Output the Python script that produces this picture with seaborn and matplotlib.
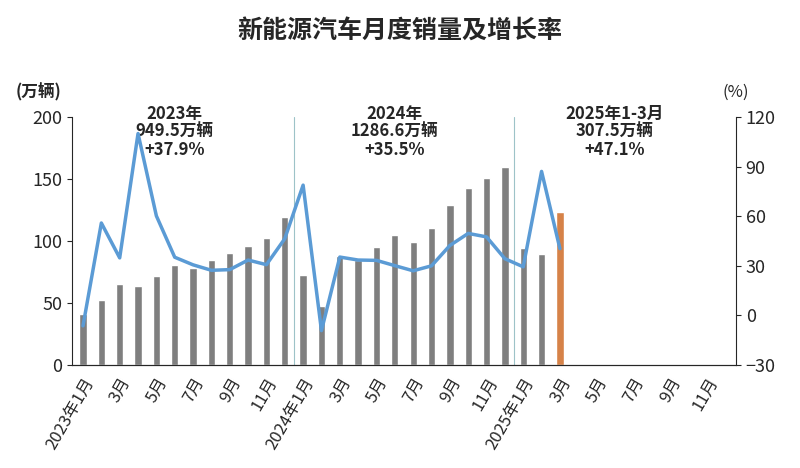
import numpy as np
import pandas as pd
import matplotlib
matplotlib.use('Agg')
import matplotlib.pyplot as plt
import seaborn as sns

sns.set_style('white')
plt.rcParams['font.family'] = ['Noto Sans CJK SC', 'DejaVu Sans']

months = ['%d年%d月' % (y, m) if m == 1 else '%d月' % m
          for y in (2023, 2024, 2025) for m in range(1, 13)]
sales = [40.8, 52.5, 65.3, 63.6, 71.7, 80.6, 78.0, 84.3, 90.4, 95.6, 102.8, 119.1,
         72.9, 47.7, 88.3, 85.0, 95.5, 104.9, 99.1, 110.3, 128.7, 143.0, 151.2, 159.6,
         94.4, 89.2, 123.7]
growth = [-6.3, 55.9, 34.8, 110.0, 60.2, 35.2, 30.6, 27.3, 27.7, 33.5, 30.7, 46.4,
          78.8, -9.2, 35.3, 33.5, 33.3, 30.1, 27.0, 30.0, 42.3, 49.6, 47.5, 34.3,
          29.4, 87.1, 40.4]
notes = [(5.0, '2023年\n949.5万辆\n+37.9%'),
         (17.0, '2024年\n1286.6万辆\n+35.5%'),
         (29.0, '2025年1-3月\n307.5万辆\n+47.1%')]

df = pd.DataFrame({'pos': np.arange(len(sales)), 'sales': sales,
                   'kind': ['past'] * (len(sales) - 1) + ['latest']})

fig, ax = plt.subplots(figsize=(8, 4.68), dpi=100)
sns.barplot(data=df, x='pos', y='sales', hue='kind', native_scale=True,
            palette={'past': '#7f7f7f', 'latest': '#ED7D31'}, dodge=False,
            legend=False, width=0.4, ax=ax)
ax.set_ylim(0, 200)
ax.set_yticks(range(0, 201, 50))
ax.set_xlim(-0.6, len(months) - 0.4)
ax.set_xticks(range(0, len(months), 2))
ax.set_xticklabels(months[::2], rotation=60, ha='right', rotation_mode='anchor', fontsize=12)
ax.tick_params(axis='y', labelsize=13)
ax.set_xlabel('')
ax.set_ylabel('')
for xv in (11.5, 23.5):
    ax.axvline(xv, color='#9dc3c8', lw=0.8)

ax2 = ax.twinx()
sns.lineplot(x=np.arange(len(growth)), y=growth, color='#5B9BD5', lw=2.5, ax=ax2)
ax2.set_ylim(-30, 120)
ax2.set_yticks(range(-30, 121, 30))
ax2.tick_params(axis='y', labelsize=13)

for a in (ax, ax2):
    for s in a.spines.values():
        s.set_visible(False)
    a.spines['bottom'].set_visible(True)
ax.spines['left'].set_visible(True)
ax2.spines['right'].set_visible(True)

for xv, txt in notes:
    ax.text(xv, 210, txt, ha='center', va='top', fontsize=12, fontweight='bold', linespacing=1.0)
ax.text(-0.05, 1.08, '(万辆)', transform=ax.transAxes, ha='center', fontsize=12, fontweight='bold')
ax2.text(1.0, 1.08, '(%)', transform=ax2.transAxes, ha='center', fontsize=12)
fig.suptitle('新能源汽车月度销量及增长率', fontsize=18, fontweight='bold', y=0.96)

fig.subplots_adjust(left=0.09, right=0.92, top=0.75, bottom=0.22)
fig.savefig('out.png', dpi=100)
